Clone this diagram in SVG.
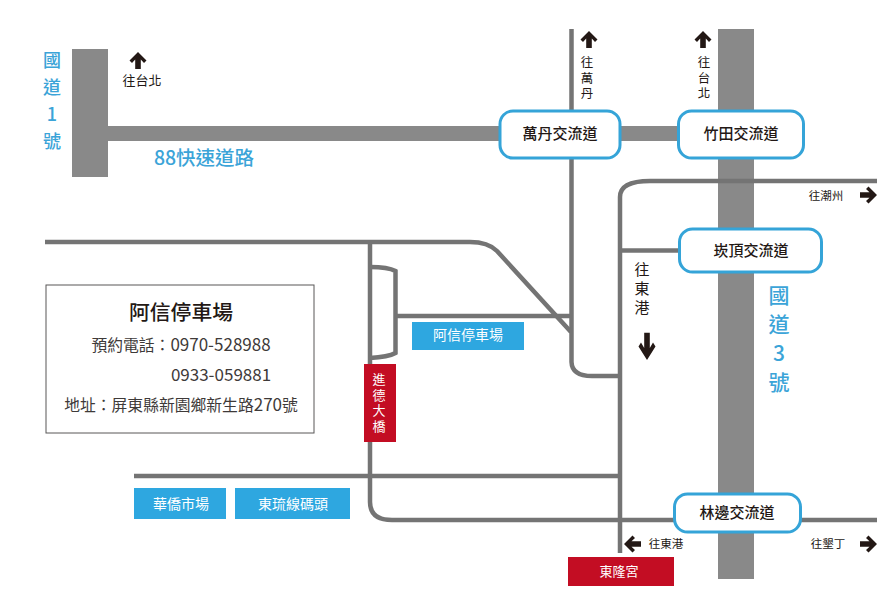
<svg xmlns="http://www.w3.org/2000/svg" xmlns:xlink="http://www.w3.org/1999/xlink" width="895" height="600" viewBox="0 0 895 600">
<style>
text{font-family:"Noto Sans CJK TC","Noto Sans",sans-serif;text-anchor:middle}
.v{writing-mode:vertical-rl;text-orientation:upright;text-anchor:start}
.hw{fill:#898989}
.rd{fill:none;stroke:#747474;stroke-width:4.5}
.ic{fill:#fff;stroke:#35a4d8;stroke-width:3}
.ict{font-size:15px;fill:#231815;font-weight:500}
.blu{fill:#2ea7e0}
.red{fill:#c30d23}
.wt{fill:#fff;font-size:14px}
.wts{fill:#fff;font-size:13px}
.bl{fill:#3ba4d8;font-weight:500}
.sm{fill:#231815;font-size:13px}
.xs{fill:#231815;font-size:11.500px}
.st{fill:#231815;font-size:12.500px;letter-spacing:3px}
.inf{fill:#3e3a39;font-size:15.800px}
.num{font-size:17px}
.ar{fill:#231815}
</style>
<defs>
<path id="a" d="M0 0L8.500 8.500L6 11L2.800 7.500V17H-2.800V7.500L-6 11L-8.500 8.500Z"/>
</defs>
<g id="connectors">
<rect class="hw" x="72" y="49" width="36" height="128"/>
<rect class="hw" x="108" y="126" width="575" height="15"/>
<rect class="hw" x="718" y="29" width="36" height="550"/>
<path class="rd" d="M571.500 29V362Q572 376 592 376H620"/>
<path class="rd" d="M620 553V197Q620 181 650 181H877"/>
<path class="rd" d="M620 250.500H682"/>
<path class="rd" d="M45 242H470Q488 242 497 251L571 332"/>
<path class="rd" d="M370 242V502Q370 520 392 520H877"/>
<path class="rd" d="M134 476H620"/>
<path class="rd" d="M370 267Q388 267 395.500 271V353Q388 357 370 358"/>
<path class="rd" d="M395.500 316H571"/>
</g>
<g id="arrows" class="ar">
<use xlink:href="#a" href="#a" transform="translate(138 52)"/>
<use xlink:href="#a" href="#a" transform="translate(589 31)"/>
<use xlink:href="#a" href="#a" transform="translate(703 31)"/>
<use xlink:href="#a" href="#a" transform="translate(877 195) rotate(90)"/>
<use xlink:href="#a" href="#a" transform="translate(877 544) rotate(90)"/>
<use xlink:href="#a" href="#a" transform="translate(624 544) rotate(-90)"/>
<use xlink:href="#a" href="#a" transform="translate(647 360) rotate(180) scale(1 1.600)"/>
</g>
<g id="road-labels">
<text class="bl v" font-size="18" x="52" y="51" style="letter-spacing:9px">國道1號</text>
<text class="bl" x="204" y="165" font-size="19.500">88快速道路</text>
<text class="bl v" font-size="21" x="779" y="285" style="letter-spacing:8px">國道3號</text>
<text class="sm" x="142" y="85">往台北</text>
<text class="st v" x="587" y="56">往萬丹</text>
<text class="st v" x="704" y="56">往台北</text>
<text class="xs" x="826" y="200">往潮州</text>
<text class="xs" x="666" y="548">往東港</text>
<text class="xs" x="828" y="548">往墾丁</text>
<text class="sm v" x="642" y="262" style="font-size:15px;letter-spacing:4px">往東港</text>
</g>
<g id="wandan"><rect class="ic" x="500" y="111" width="120" height="47" rx="13"/><text class="ict" x="560" y="139">萬丹交流道</text></g>
<g id="zhutian"><rect class="ic" x="678.500" y="111" width="125" height="47" rx="13"/><text class="ict" x="741" y="139">竹田交流道</text></g>
<g id="kanding"><rect class="ic" x="679.500" y="229" width="142" height="43" rx="13"/><text class="ict" x="751" y="256">崁頂交流道</text></g>
<g id="linbian"><rect class="ic" x="674.500" y="494" width="126" height="38" rx="13"/><text class="ict" x="737" y="518">林邊交流道</text></g>
<g id="parking-label"><rect class="blu" x="412" y="322" width="112" height="28"/><text class="wt" x="468" y="340">阿信停車場</text></g>
<g id="bridge"><rect class="red" x="364" y="364" width="32" height="78"/><text class="wts v" x="379" y="373" style="letter-spacing:2.500px">進德大橋</text></g>
<g id="market"><rect class="blu" x="134" y="488" width="92" height="31"/><text class="wt" x="181" y="509">華僑市場</text></g>
<g id="pier"><rect class="blu" x="235" y="488" width="115" height="31"/><text class="wt" x="293" y="509">東琉線碼頭</text></g>
<g id="temple"><rect class="red" x="568" y="557" width="106" height="29"/><text class="wts" x="619" y="576">東隆宮</text></g>
<g id="info">
<rect x="46" y="285" width="268" height="148" fill="#fff" stroke="#595757" stroke-width="1"/>
<text x="181" y="320" font-size="20.800" font-weight="500" fill="#231815">阿信停車場</text>
<text class="inf" x="181" y="351">預約電話：<tspan class="num">0970-528988</tspan></text>
<text class="inf num" x="221" y="381">0933-059881</text>
<text class="inf" x="181" y="411">地址：屏東縣新園鄉新生路<tspan class="num">270</tspan>號</text>
</g>
</svg>
